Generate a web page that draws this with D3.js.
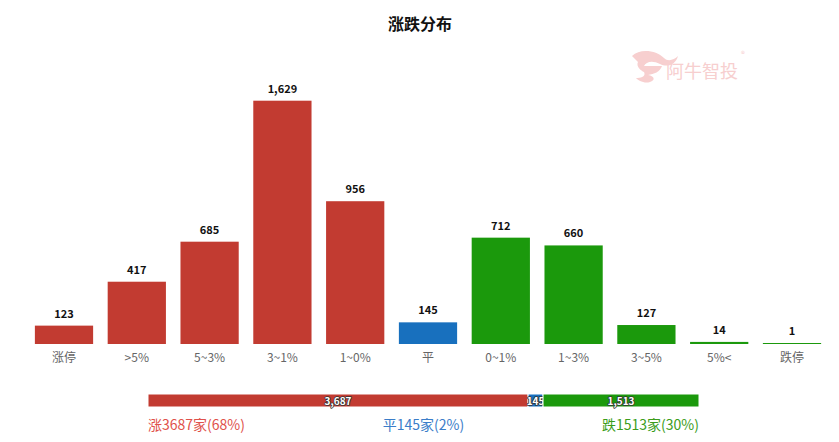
<!DOCTYPE html>
<html><head><meta charset="utf-8">
<script src="https://cdn.jsdelivr.net/npm/d3@7/dist/d3.min.js"></script>
<style>
body{margin:0;background:#fff;}
svg{display:block;font-family:"Microsoft YaHei","Noto Sans CJK SC","Noto Sans",sans-serif;}
</style></head>
<body><svg id="c" width="839" height="442"></svg>
<script>
const categories = ["涨停", ">5%", "5~3%", "3~1%", "1~0%", "平", "0~1%", "1~3%", "3~5%", "5%<", "跌停"];
const values = [123, 417, 685, 1629, 956, 145, 712, 660, 127, 14, 1];
const groups = ["up","up","up","up","up","flat","down","down","down","down","down"];
const summaryKeys = ["up","flat","down"];
const summaryValues = [3687, 145, 1513];
const summaryLabels = ["涨3687家(68%)", "平145家(2%)", "跌1513家(30%)"];
const title = "涨跌分布";

const barColor = {up:"#c23b31", flat:"#1870be", down:"#1b990c"};
const textColor = {up:"#e0514b", flat:"#3a7dc9", down:"#3b9d1b"};

const svg = d3.select("#c");
svg.append("text").attr("x",420).attr("y",30).attr("text-anchor","middle")
  .attr("font-size",16).attr("font-weight","bold").attr("fill","#111").text(title);

// watermark
const wm = svg.append("g").attr("fill","#f7caca").attr("opacity",0.9);
wm.append("path").attr("d","M632,56 C640,48 656,50 664,58 C668,62 674,60 678,56 C676,64 668,68 660,64 C652,60 646,62 644,66 L662,66 C660,72 654,74 648,75 C654,76 656,80 650,82 C644,84 638,80 636,78 C642,78 646,76 644,72 C640,70 636,66 638,62 C636,60 634,58 632,56 Z");
wm.append("text").attr("x",666).attr("y",78).attr("font-size",18).text("阿牛智投");
wm.append("text").attr("x",741).attr("y",57).attr("font-size",8).text("®");

const x = d3.scaleBand().domain(categories).range([27.6, 828.4]).paddingInner(0.2).paddingOuter(0.1);
const y = d3.scaleLinear().domain([0, 1629]).range([344, 100.7]);

const bars = svg.append("g");
categories.forEach((c,i)=>{
  const top = Math.min(y(values[i]), 343);
  bars.append("rect").attr("x",x(c)).attr("width",x.bandwidth())
    .attr("y",top).attr("height",344-top).attr("fill",barColor[groups[i]]);
  bars.append("text").attr("x",x(c)+x.bandwidth()/2).attr("y",top-8)
    .attr("text-anchor","middle").attr("font-size",11).attr("font-weight","bold")
    .attr("fill","#111").text(d3.format(",")(values[i]));
});
const xAxis = svg.append("g").attr("transform","translate(0,344)")
  .call(d3.axisBottom(x).tickSize(0).tickPadding(9));
xAxis.select(".domain").remove();
xAxis.selectAll("text").attr("font-size",12).attr("fill","#666")
  .attr("font-family","\"Microsoft YaHei\",\"Noto Sans CJK SC\",sans-serif");

// stacked summary bar
const total = d3.sum(summaryValues);
const sx = d3.scaleLinear().domain([0,total]).range([148, 699]);
let acc = 0;
const sg = svg.append("g");
summaryKeys.forEach((k,i)=>{
  const x0 = sx(acc), x1 = sx(acc+summaryValues[i]);
  sg.append("rect").attr("x",x0).attr("y",394).attr("width",x1-x0).attr("height",13)
    .attr("fill",barColor[k]).attr("stroke","#fff").attr("stroke-width",1);
  sg.append("text").attr("x",(x0+x1)/2).attr("y",404.5).attr("text-anchor","middle")
    .attr("font-size",10).attr("font-weight","bold").attr("fill","#fff")
    .attr("stroke","#333").attr("stroke-width",1.6).attr("stroke-linejoin","round")
    .attr("paint-order","stroke")
    .text(d3.format(",")(summaryValues[i]));
  acc += summaryValues[i];
});
const anchors = ["start","middle","end"];
const ax = [sx(0), (sx(0)+sx(total))/2, sx(total)];
summaryKeys.forEach((k,i)=>{
  svg.append("text").attr("x",ax[i]).attr("y",430).attr("text-anchor",anchors[i])
    .attr("font-size",14).attr("fill",textColor[k]).text(summaryLabels[i]);
});
</script></body></html>
